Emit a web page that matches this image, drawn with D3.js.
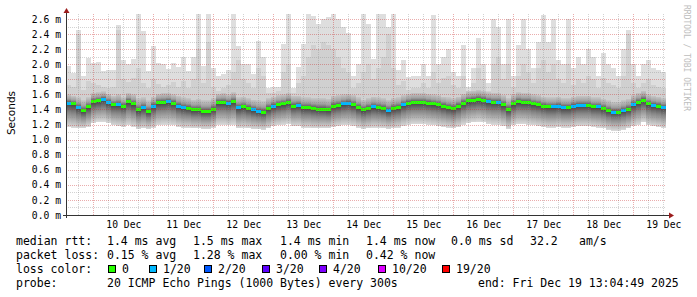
<!DOCTYPE html>
<html>
<head>
<meta charset="utf-8">
<script src="https://cdn.jsdelivr.net/npm/d3@7"></script>
<style>
body { margin: 0; background: #fff; }
svg text { font-family: "DejaVu Sans Mono", monospace; fill: #000; }
</style>
</head>
<body>
<script>
// one value per 2 hour bin, 10 days, median rtt in ms
var median = [1.49,1.48,1.43,1.39,1.44,1.51,1.52,1.54,1.50,1.47,
  1.47,1.45,1.51,1.48,1.40,1.43,1.38,1.45,1.50,1.50,
  1.51,1.49,1.45,1.43,1.42,1.40,1.40,1.38,1.38,1.41,
  1.50,1.50,1.49,1.51,1.43,1.44,1.42,1.40,1.38,1.37,
  1.42,1.45,1.47,1.48,1.50,1.45,1.46,1.43,1.43,1.42,
  1.41,1.41,1.40,1.45,1.46,1.48,1.49,1.47,1.43,1.40,
  1.42,1.44,1.43,1.42,1.39,1.42,1.43,1.47,1.49,1.50,
  1.50,1.50,1.49,1.48,1.47,1.45,1.43,1.42,1.45,1.49,
  1.52,1.53,1.54,1.53,1.51,1.50,1.50,1.47,1.41,1.48,
  1.51,1.50,1.50,1.48,1.47,1.45,1.44,1.44,1.45,1.43,
  1.43,1.45,1.46,1.46,1.46,1.44,1.44,1.42,1.39,1.37,
  1.37,1.39,1.41,1.47,1.50,1.53,1.48,1.46,1.45,1.43];

// lost pings out of 20
var loss = [1,0,1,0,0,0,0,1,1,0,
  1,0,0,0,0,1,0,1,0,0,
  1,0,1,1,0,0,0,0,0,0,
  0,0,1,0,1,0,0,1,1,0,
  0,1,0,0,0,0,1,0,0,0,
  0,0,0,0,0,1,1,0,0,0,
  0,1,0,0,1,0,0,1,0,0,
  0,0,0,0,0,0,0,0,0,0,
  0,0,0,0,1,0,1,0,0,0,
  0,0,0,0,0,0,0,1,1,1,
  0,1,1,1,0,0,1,0,0,1,
  0,1,0,1,0,0,0,1,0,1];

// lowest ping
var pingMin = [1.17,1.16,1.15,1.15,1.17,1.22,1.24,1.24,1.22,1.19,
  1.18,1.17,1.19,1.17,1.14,1.15,1.14,1.16,1.19,1.20,
  1.20,1.19,1.17,1.16,1.16,1.15,1.15,1.14,1.14,1.16,
  1.20,1.20,1.19,1.20,1.15,1.16,1.15,1.14,1.14,1.13,
  1.15,1.18,1.19,1.20,1.21,1.18,1.18,1.16,1.16,1.15,
  1.15,1.15,1.15,1.17,1.18,1.19,1.19,1.18,1.16,1.14,
  1.15,1.16,1.16,1.15,1.14,1.15,1.16,1.18,1.20,1.21,
  1.21,1.21,1.20,1.19,1.18,1.17,1.16,1.15,1.17,1.20,
  1.22,1.23,1.24,1.23,1.21,1.20,1.20,1.18,1.14,1.19,
  1.21,1.21,1.20,1.19,1.18,1.17,1.16,1.16,1.17,1.16,
  1.16,1.17,1.18,1.18,1.18,1.17,1.16,1.15,1.13,1.12,
  1.12,1.13,1.15,1.18,1.20,1.23,1.19,1.18,1.17,1.16];

// top of the dense smoke around the median
var smokeUp = [1.60,1.58,1.56,1.52,1.56,1.62,1.63,1.64,1.61,1.58,
  1.60,1.56,1.62,1.60,1.55,1.56,1.52,1.57,1.61,1.62,
  1.62,1.60,1.58,1.56,1.55,1.53,1.54,1.52,1.52,1.55,
  1.61,1.62,1.60,1.63,1.56,1.57,1.55,1.53,1.52,1.51,
  1.55,1.57,1.59,1.60,1.62,1.58,1.58,1.56,1.56,1.55,
  1.55,1.55,1.54,1.58,1.59,1.60,1.61,1.59,1.56,1.53,
  1.55,1.57,1.56,1.55,1.53,1.55,1.56,1.59,1.61,1.62,
  1.62,1.62,1.61,1.60,1.59,1.57,1.56,1.55,1.57,1.61,
  1.64,1.65,1.66,1.65,1.63,1.62,1.62,1.59,1.55,1.60,
  1.63,1.62,1.62,1.60,1.59,1.57,1.56,1.56,1.57,1.55,
  1.55,1.57,1.58,1.58,1.58,1.56,1.56,1.54,1.52,1.50,
  1.50,1.52,1.54,1.59,1.62,1.65,1.60,1.58,1.57,1.55];

// second highest smoke layer
var smokeHi = [1.72,1.70,2.40,1.66,1.78,1.75,1.72,1.70,1.68,1.70,
  2.45,1.80,1.76,1.82,1.95,1.75,1.68,1.80,1.74,1.70,
  1.72,1.76,1.70,1.78,1.68,1.80,2.20,1.75,2.30,1.70,
  1.65,1.68,1.72,1.90,2.05,1.80,1.75,1.68,1.95,1.85,
  1.62,1.62,1.65,1.90,2.00,1.62,1.75,1.85,2.10,2.25,
  2.20,2.30,2.25,2.20,2.10,1.95,1.90,1.68,1.75,1.90,
  2.00,1.80,1.95,2.10,2.40,1.95,1.72,1.78,1.66,1.68,
  1.68,1.75,1.68,1.90,1.75,1.82,1.85,1.72,1.68,1.85,
  1.62,1.75,1.95,1.80,1.65,2.00,2.10,1.80,2.00,1.70,
  1.85,2.00,1.90,1.75,1.95,2.05,1.90,2.00,1.80,1.75,
  2.00,1.72,1.80,1.75,1.85,1.80,1.68,1.82,1.75,1.72,
  1.68,1.85,2.40,1.75,1.68,1.75,1.80,1.72,1.70,1.68];

// highest ping
var pingMax = [1.98,1.88,2.46,1.84,2.08,2.02,2.03,1.91,1.93,1.93,
  2.52,2.05,2.00,2.07,2.67,2.44,1.91,2.24,2.02,2.00,
  1.94,2.02,1.96,2.09,1.91,2.09,2.67,1.98,2.67,1.95,
  1.84,1.87,1.93,2.69,2.24,2.00,2.00,1.87,2.31,2.09,
  1.69,1.70,1.70,2.27,2.67,1.69,1.96,2.27,2.67,2.64,
  2.53,2.60,2.62,2.67,2.60,2.49,2.42,1.84,2.00,2.67,
  2.53,2.07,2.67,2.67,2.49,2.67,1.93,2.05,1.83,1.84,
  1.84,2.00,1.85,2.65,2.00,2.10,2.20,1.90,1.85,2.25,
  1.70,1.95,2.35,2.00,1.75,2.60,2.50,2.00,2.60,1.85,
  2.25,2.60,2.20,1.95,2.30,2.65,2.30,2.60,2.05,2.00,
  2.60,1.95,2.10,2.00,2.20,2.10,1.85,2.15,2.00,1.95,
  1.85,2.20,2.45,2.00,1.85,2.00,2.05,1.95,1.92,1.90];

var yTicks = [0,0.2,0.4,0.6,0.8,1.0,1.2,1.4,1.6,1.8,2.0,2.2,2.4,2.6];
var dayNames = ["10 Dec","11 Dec","12 Dec","13 Dec","14 Dec","15 Dec","16 Dec","17 Dec","18 Dec","19 Dec"];

var lossNames = ["0","1/20","2/20","3/20","4/20","10/20","19/20"];
var lossSteps = [0,1,2,3,4,10,19];
var lossColors = ["#26ff00","#00b8ff","#0059ff","#5e00ff","#7e00ff","#dd00ff","#ff0000"];

var rttStats = ["1.4 ms avg","1.5 ms max","1.4 ms min","1.4 ms now","0.0 ms sd","32.2","am/s"];
var lossStats = ["0.15 % avg","1.28 % max","0.00 % min","0.42 % now"];

var t0 = Date.UTC(2025, 11, 9, 13, 4, 49);
var binMs = 2 * 3600 * 1000;
var t1 = t0 + 10 * 86400 * 1000;

var svg = d3.select("body").append("svg")
  .attr("width", 697)
  .attr("height", 297);

var x = d3.scaleUtc().domain([new Date(t0), new Date(t1)]).range([66, 666]);
var y = d3.scaleLinear().domain([0, 2.6]).range([215, 19]);

var defs = svg.append("defs");
defs.append("clipPath").attr("id", "plot")
  .append("rect").attr("x", 66).attr("y", 14).attr("width", 600).attr("height", 201);

var gUp = defs.append("linearGradient").attr("id", "gUp")
  .attr("x1", 0).attr("y1", 0).attr("x2", 0).attr("y2", 1);
gUp.append("stop").attr("offset", 0).attr("stop-color", "#c6c6c6");
gUp.append("stop").attr("offset", 0.55).attr("stop-color", "#a0a0a0");
gUp.append("stop").attr("offset", 1).attr("stop-color", "#555555");

var gDown = defs.append("linearGradient").attr("id", "gDown")
  .attr("x1", 0).attr("y1", 0).attr("x2", 0).attr("y2", 1);
gDown.append("stop").attr("offset", 0).attr("stop-color", "#3c3c3c");
gDown.append("stop").attr("offset", 0.4).attr("stop-color", "#858585");
gDown.append("stop").attr("offset", 0.8).attr("stop-color", "#bdbdbd");
gDown.append("stop").attr("offset", 1).attr("stop-color", "#d8d8d8");

var bins = median.map(function(m, i) {
  return {t: new Date(t0 + i * binMs), med: m, loss: loss[i],
    lo: pingMin[i], up: smokeUp[i], hi: smokeHi[i], max: pingMax[i]};
});

function bx(d) { return Math.round(x(d.t)); }
function bw(d) { return Math.round(x(new Date(+d.t + binMs))) - bx(d); }

function lossColor(n) {
  var c = lossColors[0];
  lossSteps.forEach(function(s, i) { if (n >= s) c = lossColors[i]; });
  return c;
}

var smoke = svg.append("g").attr("clip-path", "url(#plot)").attr("shape-rendering", "crispEdges");

// the smoke, outer layer first
smoke.selectAll(".outer").data(bins).join("rect")
  .attr("x", bx).attr("width", bw)
  .attr("y", function(d) { return y(d.max); })
  .attr("height", function(d) { return y(d.lo) - y(d.max); })
  .attr("fill", "#dedede");

smoke.selectAll(".second").data(bins).join("rect")
  .attr("x", bx).attr("width", bw)
  .attr("y", function(d) { return y(d.hi); })
  .attr("height", function(d) { return y(d.med) - y(d.hi); })
  .attr("fill", "#d0d0d0");

smoke.selectAll(".coreUp").data(bins).join("rect")
  .attr("x", bx).attr("width", bw)
  .attr("y", function(d) { return y(d.up); })
  .attr("height", function(d) { return y(d.med) - y(d.up); })
  .attr("fill", "url(#gUp)");

smoke.selectAll(".coreDown").data(bins).join("rect")
  .attr("x", bx).attr("width", bw)
  .attr("y", function(d) { return y(d.med); })
  .attr("height", function(d) { return y(d.lo) - y(d.med); })
  .attr("fill", "url(#gDown)");

// median, coloured by loss
smoke.selectAll(".med").data(bins).join("rect")
  .attr("x", bx).attr("width", bw)
  .attr("y", function(d) { return Math.round(y(d.med)) - 1; })
  .attr("height", 3)
  .attr("fill", function(d) { return lossColor(d.loss); });

// grid on top, semi transparent like rrdtool
var grid = svg.append("g").attr("shape-rendering", "crispEdges").attr("fill", "none")
  .attr("stroke-dasharray", "1,1");

var minorY = d3.range(1, 27).map(function(k) { return k / 10; }).filter(function(v, k) { return k % 2 == 0; });
grid.selectAll(".hmin").data(minorY).join("line")
  .attr("x1", 66).attr("x2", 666)
  .attr("y1", function(d) { return Math.round(y(d)) + 0.5; })
  .attr("y2", function(d) { return Math.round(y(d)) + 0.5; })
  .attr("stroke", "rgba(140,140,140,0.38)");

var hours = d3.utcHour.every(6).range(new Date(t0), new Date(t1)).filter(function(d) { return d.getUTCHours() != 0; });
grid.selectAll(".vmin").data(hours).join("line")
  .attr("x1", function(d) { return Math.round(x(d)) + 0.5; })
  .attr("x2", function(d) { return Math.round(x(d)) + 0.5; })
  .attr("y1", 14).attr("y2", 215)
  .attr("stroke", "rgba(140,140,140,0.38)");

grid.selectAll(".hmaj").data(yTicks.slice(1)).join("line")
  .attr("x1", 66).attr("x2", 666)
  .attr("y1", function(d) { return Math.round(y(d)) + 0.5; })
  .attr("y2", function(d) { return Math.round(y(d)) + 0.5; })
  .attr("stroke", "rgba(200,40,40,0.38)");

var days = d3.utcDay.range(new Date(t0), new Date(t1));
grid.selectAll(".vmaj").data(days).join("line")
  .attr("x1", function(d) { return Math.round(x(d)) + 0.5; })
  .attr("x2", function(d) { return Math.round(x(d)) + 0.5; })
  .attr("y1", 14).attr("y2", 215)
  .attr("stroke", "rgba(200,40,40,0.38)");

// axes
var noons = days.map(function(d) { return d3.utcHour.offset(d, 12); });
var xAxis = svg.append("g").attr("transform", "translate(0,215)")
  .call(d3.axisBottom(x).tickValues(noons).tickSize(0).tickPadding(6)
    .tickFormat(function(d, i) { return dayNames[i]; }));
xAxis.select(".domain").remove();
xAxis.selectAll("text").style("font-size", "9.7px").style("font-family", "DejaVu Sans Mono");

var yAxis = svg.append("g").attr("transform", "translate(66,0)")
  .call(d3.axisLeft(y).tickValues(yTicks).tickSize(0).tickPadding(5)
    .tickFormat(function(d) { return d.toFixed(1) + " m"; }));
yAxis.select(".domain").remove();
yAxis.selectAll("text").style("font-size", "9.7px").style("font-family", "DejaVu Sans Mono");

svg.append("line").attr("x1", 63).attr("x2", 670).attr("y1", 215.5).attr("y2", 215.5)
  .attr("stroke", "#333").attr("shape-rendering", "crispEdges");
svg.append("line").attr("x1", 66.5).attr("x2", 66.5).attr("y1", 218).attr("y2", 12)
  .attr("stroke", "#333").attr("shape-rendering", "crispEdges");
svg.append("path").attr("d", "M669,212.5 L674,215.5 L669,218.5 Z").attr("fill", "#9b1c1c");
svg.append("path").attr("d", "M63.5,13 L66.5,8 L69.5,13 Z").attr("fill", "#9b1c1c");

svg.append("text")
  .attr("transform", "translate(15,113) rotate(-90)")
  .attr("text-anchor", "middle")
  .style("font-family", "'DejaVu Sans'")
  .style("font-size", "10.5px")
  .text("Seconds");

svg.append("text")
  .attr("transform", "translate(684,5) rotate(90)")
  .style("font-size", "8px")
  .style("fill", "#bdbdbd")
  .text("RRDTOOL / TOBI OETIKER");

// legend
var leg = svg.append("g").style("font-size", "11.5px");
var rttX = [107, 193, 280, 366, 451, 530, 579];

leg.append("text").attr("x", 16).attr("y", 245).text("median rtt:");
leg.selectAll(".rtt").data(rttStats).join("text")
  .attr("x", function(d, i) { return rttX[i]; }).attr("y", 245)
  .text(function(d) { return d; });

leg.append("text").attr("x", 16).attr("y", 259).text("packet loss:");
leg.selectAll(".pl").data(lossStats).join("text")
  .attr("x", function(d, i) { return rttX[i]; }).attr("y", 259)
  .text(function(d) { return d; });

leg.append("text").attr("x", 16).attr("y", 273).text("loss color:");
var boxX = [108, 149, 204, 262, 319, 378, 442];
leg.selectAll(".lbox").data(lossNames).join("rect")
  .attr("x", function(d, i) { return boxX[i] + 0.5; }).attr("y", 265.5)
  .attr("width", 7).attr("height", 7)
  .attr("fill", function(d, i) { return lossColors[i]; })
  .attr("stroke", "#000").attr("shape-rendering", "crispEdges");
leg.selectAll(".ltxt").data(lossNames).join("text")
  .attr("x", function(d, i) { return boxX[i] + 14; }).attr("y", 273)
  .text(function(d) { return d; });

leg.append("text").attr("x", 16).attr("y", 287).text("probe:");
leg.append("text").attr("x", 107).attr("y", 287).text("20 ICMP Echo Pings (1000 Bytes) every 300s");
leg.append("text").attr("x", 478).attr("y", 287).text("end: Fri Dec 19 13:04:49 2025");
</script>
</body>
</html>
